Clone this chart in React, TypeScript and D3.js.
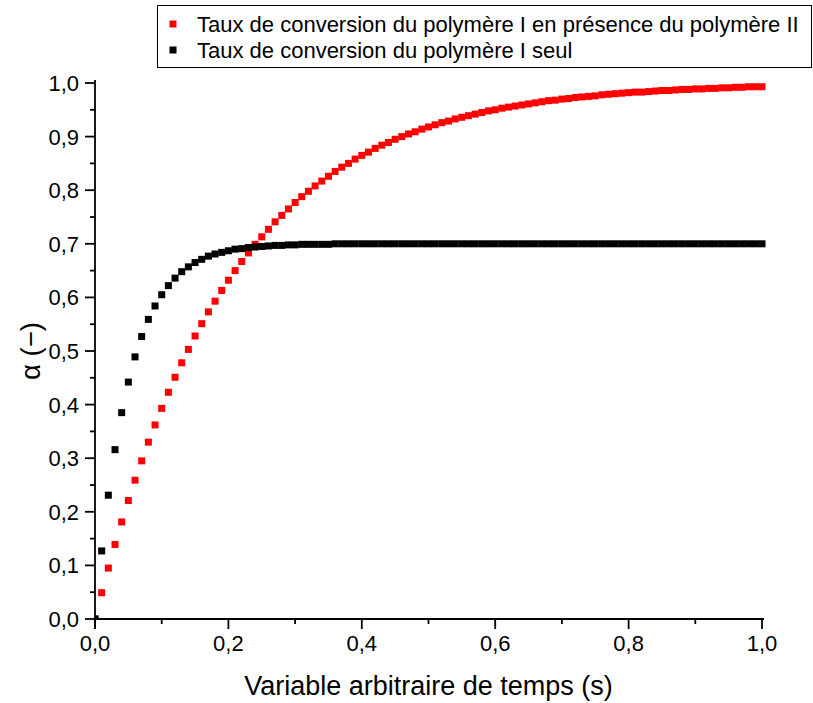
import React from "react";
import * as d3 from "d3";

const times = [
  0.0, 0.01, 0.02, 0.03, 0.04, 0.05, 0.06, 0.07, 0.08, 0.09,
  0.1, 0.11, 0.12, 0.13, 0.14, 0.15, 0.16, 0.17, 0.18, 0.19,
  0.2, 0.21, 0.22, 0.23, 0.24, 0.25, 0.26, 0.27, 0.28, 0.29,
  0.3, 0.31, 0.32, 0.33, 0.34, 0.35, 0.36, 0.37, 0.38, 0.39,
  0.4, 0.41, 0.42, 0.43, 0.44, 0.45, 0.46, 0.47, 0.48, 0.49,
  0.5, 0.51, 0.52, 0.53, 0.54, 0.55, 0.56, 0.57, 0.58, 0.59,
  0.6, 0.61, 0.62, 0.63, 0.64, 0.65, 0.66, 0.67, 0.68, 0.69,
  0.7, 0.71, 0.72, 0.73, 0.74, 0.75, 0.76, 0.77, 0.78, 0.79,
  0.8, 0.81, 0.82, 0.83, 0.84, 0.85, 0.86, 0.87, 0.88, 0.89,
  0.9, 0.91, 0.92, 0.93, 0.94, 0.95, 0.96, 0.97, 0.98, 0.99,
  1.0,
];

// Taux de conversion du polymère I en présence du polymère II
const withPolymerII = [
  0.0, 0.049, 0.095, 0.139, 0.181, 0.221, 0.259, 0.295, 0.33, 0.362,
  0.393, 0.423, 0.451, 0.478, 0.503, 0.528, 0.551, 0.573, 0.593, 0.613,
  0.632, 0.65, 0.667, 0.683, 0.699, 0.713, 0.727, 0.741, 0.753, 0.765,
  0.777, 0.788, 0.798, 0.808, 0.817, 0.826, 0.835, 0.843, 0.85, 0.858,
  0.865, 0.871, 0.878, 0.884, 0.889, 0.895, 0.9, 0.905, 0.909, 0.914,
  0.918, 0.922, 0.926, 0.929, 0.933, 0.936, 0.939, 0.942, 0.945, 0.948,
  0.95, 0.953, 0.955, 0.957, 0.959, 0.961, 0.963, 0.965, 0.967, 0.968,
  0.97, 0.971, 0.973, 0.974, 0.975, 0.976, 0.978, 0.979, 0.98, 0.981,
  0.982, 0.983, 0.983, 0.984, 0.985, 0.986, 0.986, 0.987, 0.988, 0.988,
  0.989, 0.989, 0.99, 0.99, 0.991, 0.991, 0.992, 0.992, 0.993, 0.993,
  0.993,
];

// Taux de conversion du polymère I seul
const alone = [
  0.0, 0.127, 0.231, 0.316, 0.385, 0.442, 0.489, 0.527, 0.559, 0.584,
  0.605, 0.622, 0.636, 0.648, 0.657, 0.665, 0.671, 0.677, 0.681, 0.684,
  0.687, 0.69, 0.691, 0.693, 0.694, 0.695, 0.696, 0.697, 0.697, 0.698,
  0.698, 0.699, 0.699, 0.699, 0.699, 0.699, 0.7, 0.7, 0.7, 0.7,
  0.7, 0.7, 0.7, 0.7, 0.7, 0.7, 0.7, 0.7, 0.7, 0.7,
  0.7, 0.7, 0.7, 0.7, 0.7, 0.7, 0.7, 0.7, 0.7, 0.7,
  0.7, 0.7, 0.7, 0.7, 0.7, 0.7, 0.7, 0.7, 0.7, 0.7,
  0.7, 0.7, 0.7, 0.7, 0.7, 0.7, 0.7, 0.7, 0.7, 0.7,
  0.7, 0.7, 0.7, 0.7, 0.7, 0.7, 0.7, 0.7, 0.7, 0.7,
  0.7, 0.7, 0.7, 0.7, 0.7, 0.7, 0.7, 0.7, 0.7, 0.7,
  0.7,
];

const xMajorTicks = [0, 0.2, 0.4, 0.6, 0.8, 1.0];
const xMinorTicks = [0.1, 0.3, 0.5, 0.7, 0.9];
const yMajorTicks = [0, 0.1, 0.2, 0.3, 0.4, 0.5, 0.6, 0.7, 0.8, 0.9, 1.0];
const yMinorTicks = [0.05, 0.15, 0.25, 0.35, 0.45, 0.55, 0.65, 0.75, 0.85, 0.95];

const seriesLabels = [
  "Taux de conversion du polymère I en présence du polymère II",
  "Taux de conversion du polymère I seul",
];
const seriesColors = ["#ff0000", "#000000"];

const W = 813;
const H = 703;
const FONT = "'Liberation Sans', Arial, sans-serif";

const fmt = (v: number) => v.toFixed(1).replace(".", ",");

export default function App() {
  const x = d3.scaleLinear().domain([0, 1]).range([95, 762]);
  const y = d3.scaleLinear().domain([0, 1]).range([619, 83]);
  const ms = 7;
  const series = [withPolymerII, alone];

  return (
    <svg
      width={W}
      height={H}
      style={{ position: "absolute", left: 0, top: 0, background: "#fff" }}
      fontFamily={FONT}
    >
      <defs>
        <clipPath id="plot">
          <rect x={x(0)} y={y(1) - 10} width={x(1) - x(0) + 10} height={y(0) - y(1) + 10} />
        </clipPath>
      </defs>

      <g clipPath="url(#plot)">
        {series.map((vals, si) => (
          <g key={si} fill={seriesColors[si]}>
            {vals.map((v, i) => (
              <rect
                key={i}
                x={x(times[i]) - ms / 2}
                y={y(v) - ms / 2}
                width={ms}
                height={ms}
              />
            ))}
          </g>
        ))}
      </g>

      {/* axes */}
      <g stroke="#000" strokeWidth={1.8} fill="none">
        <line x1={x(0)} x2={x(1) + 2} y1={y(0)} y2={y(0)} />
        <line x1={x(0)} x2={x(0)} y1={y(0) + 10} y2={y(1) - 3} />
        {xMajorTicks.map((t) => (
          <line key={"xM" + t} x1={x(t)} x2={x(t)} y1={y(0)} y2={y(0) + 10} />
        ))}
        {xMinorTicks.map((t) => (
          <line key={"xm" + t} x1={x(t)} x2={x(t)} y1={y(0)} y2={y(0) + 5} />
        ))}
        {yMajorTicks.map((t) => (
          <line key={"yM" + t} x1={x(0) - 10} x2={x(0)} y1={y(t)} y2={y(t)} />
        ))}
        {yMinorTicks.map((t) => (
          <line key={"ym" + t} x1={x(0) - 5} x2={x(0)} y1={y(t)} y2={y(t)} />
        ))}
      </g>

      <g fontSize={22} fill="#000">
        {xMajorTicks.map((t) => (
          <text key={"xl" + t} x={x(t)} y={y(0) + 32} textAnchor="middle">
            {fmt(t)}
          </text>
        ))}
        {yMajorTicks.map((t) => (
          <text key={"yl" + t} x={x(0) - 16} y={y(t) + 8} textAnchor="end">
            {fmt(t)}
          </text>
        ))}
      </g>

      <text x={(x(0) + x(1)) / 2} y={695} textAnchor="middle" fontSize={27} fill="#000">
        Variable arbitraire de temps (s)
      </text>
      <text
        transform={`translate(40, ${(y(0) + y(1)) / 2}) rotate(-90)`}
        textAnchor="middle"
        fontSize={27.5}
        fill="#000"
      >
        α (−)
      </text>

      {/* legend */}
      <rect x={157.5} y={5.5} width={654} height={62} fill="#fff" stroke="#000" strokeWidth={1} />
      {seriesLabels.map((lab, i) => (
        <g key={lab}>
          <rect x={173 - 3.5} y={24 + i * 26 - 3.5} width={7} height={7} fill={seriesColors[i]} />
          <text x={197} y={24 + i * 26 + 8} fontSize={22} fill="#000">
            {lab}
          </text>
        </g>
      ))}
    </svg>
  );
}
